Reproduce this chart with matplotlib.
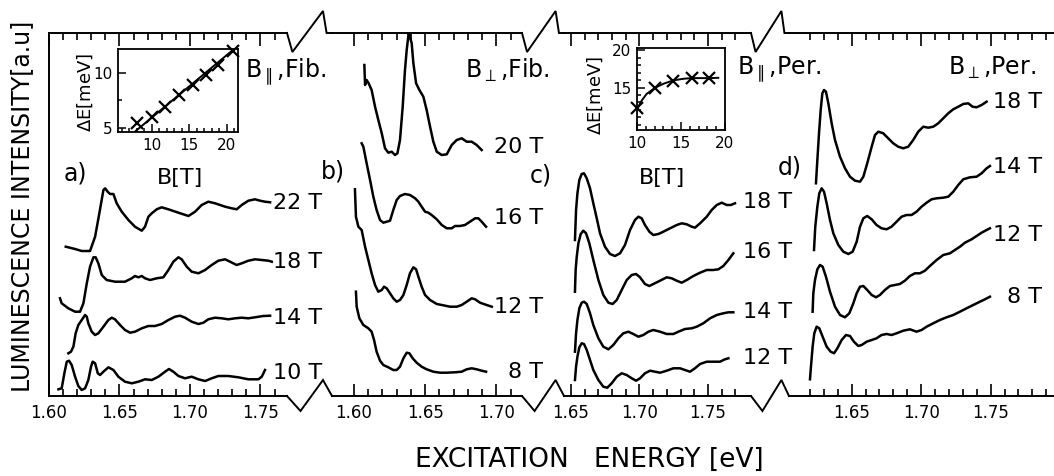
import numpy as np
import matplotlib
matplotlib.use('Agg')
import matplotlib.pyplot as plt
from matplotlib.ticker import FixedLocator, FormatStrFormatter

# ---------------- data (energy in eV, intensity in a.u., curves already offset) ----------------
# a) B parallel, fibre
fp22_E = [1.6119, 1.6185, 1.6232, 1.6291, 1.6327, 1.6357, 1.6386, 1.6398, 1.6416, 1.6433, 1.6457, 1.6480,
          1.6516, 1.6563, 1.6610, 1.6658, 1.6681, 1.6705, 1.6729, 1.6764, 1.6799, 1.6847, 1.6918, 1.6989,
          1.7036, 1.7083, 1.7130, 1.7178, 1.7249, 1.7296, 1.7331, 1.7367, 1.7414, 1.7461, 1.7497, 1.7532, 1.7568]
fp22_I = [14.93, 14.70, 14.50, 14.50, 15.93, 18.27, 20.60, 20.77, 20.43, 20.20, 20.20, 19.27,
          18.43, 17.60, 16.93, 16.53, 16.93, 17.93, 18.27, 18.67, 18.87, 18.67, 18.33, 18.00,
          18.43, 19.10, 19.43, 19.27, 18.93, 18.77, 18.67, 19.10, 19.53, 19.67, 19.53, 19.43, 19.37]
fp18_E = [1.6078, 1.6090, 1.6137, 1.6185, 1.6220, 1.6244, 1.6268, 1.6291, 1.6315, 1.6331, 1.6350, 1.6374,
          1.6409, 1.6468, 1.6539, 1.6587, 1.6610, 1.6634, 1.6658, 1.6681, 1.6717, 1.6764, 1.6811, 1.6847,
          1.6882, 1.6918, 1.6941, 1.6977, 1.7012, 1.7060, 1.7107, 1.7154, 1.7201, 1.7249, 1.7284, 1.7331,
          1.7367, 1.7414, 1.7461, 1.7509, 1.7556, 1.7580]
fp18_I = [9.77, 9.27, 8.77, 8.43, 8.43, 9.27, 11.27, 12.93, 13.87, 13.87, 13.27, 12.10,
          11.60, 11.43, 11.43, 11.77, 12.00, 11.87, 12.00, 11.77, 11.60, 11.77, 11.87, 12.60,
          13.43, 13.87, 13.67, 12.93, 12.43, 12.27, 12.60, 13.10, 13.53, 13.67, 13.43, 13.10,
          13.27, 13.53, 13.67, 13.60, 13.53, 13.43]
fp14_E = [1.6137, 1.6156, 1.6173, 1.6189, 1.6208, 1.6232, 1.6256, 1.6268, 1.6279, 1.6303, 1.6327, 1.6350,
          1.6386, 1.6421, 1.6445, 1.6468, 1.6504, 1.6539, 1.6575, 1.6610, 1.6658, 1.6705, 1.6752, 1.6799,
          1.6847, 1.6894, 1.6929, 1.6965, 1.7012, 1.7060, 1.7095, 1.7130, 1.7178, 1.7225, 1.7272, 1.7320,
          1.7367, 1.7414, 1.7461, 1.7520, 1.7568]
fp14_I = [4.27, 4.43, 4.93, 6.27, 7.10, 7.60, 8.10, 7.93, 7.27, 6.43, 6.10, 6.27,
          6.93, 7.60, 7.83, 7.67, 7.10, 6.60, 6.33, 6.43, 6.77, 7.00, 7.00, 7.20,
          7.60, 7.93, 8.03, 7.83, 7.43, 7.20, 7.33, 7.67, 7.83, 7.77, 7.67, 7.77,
          7.83, 7.77, 7.87, 8.00, 8.03]
fp10_E = [1.6067, 1.6090, 1.6109, 1.6126, 1.6142, 1.6161, 1.6185, 1.6208, 1.6232, 1.6256, 1.6279, 1.6298,
          1.6310, 1.6327, 1.6346, 1.6362, 1.6386, 1.6421, 1.6457, 1.6492, 1.6539, 1.6587, 1.6634, 1.6681,
          1.6729, 1.6776, 1.6823, 1.6851, 1.6882, 1.6918, 1.6965, 1.7012, 1.7060, 1.7107, 1.7154, 1.7201,
          1.7272, 1.7343, 1.7414, 1.7485, 1.7509, 1.7532]
fp10_I = [0.67, 0.77, 2.27, 3.43, 3.53, 3.10, 1.93, 1.00, 0.60, 0.77, 1.60, 2.93,
          3.43, 3.27, 2.27, 2.10, 2.43, 2.87, 2.60, 1.93, 1.43, 1.27, 1.43, 1.67,
          1.60, 1.93, 2.43, 2.70, 2.43, 2.00, 1.77, 1.93, 1.67, 1.50, 1.77, 2.00,
          2.00, 1.87, 1.67, 1.67, 1.93, 2.60]

# b) B perpendicular, fibre
fo20_E = [1.6073, 1.6078, 1.6089, 1.6103, 1.6124, 1.6148, 1.6171, 1.6195, 1.6218, 1.6241, 1.6265, 1.6288,
          1.6305, 1.6323, 1.6342, 1.6358, 1.6370, 1.6384, 1.6393, 1.6405, 1.6417, 1.6436, 1.6459, 1.6487,
          1.6510, 1.6534, 1.6557, 1.6581, 1.6616, 1.6651, 1.6686, 1.6721, 1.6756, 1.6791, 1.6826, 1.6861, 1.6896]
fo20_I = [33.10, 31.10, 31.60, 31.27, 30.60, 28.93, 27.60, 26.27, 24.77, 24.33, 24.43, 24.10,
          24.27, 25.60, 28.93, 32.60, 34.60, 36.27, 35.93, 35.27, 33.27, 31.27, 30.60, 29.93,
          28.60, 26.93, 25.43, 24.43, 24.10, 24.17, 25.10, 25.60, 25.77, 25.43, 25.43, 25.10, 24.60]
fo16_E = [1.6054, 1.6066, 1.6089, 1.6113, 1.6136, 1.6159, 1.6183, 1.6206, 1.6230, 1.6253, 1.6276, 1.6300,
          1.6323, 1.6358, 1.6393, 1.6429, 1.6452, 1.6475, 1.6499, 1.6522, 1.6545, 1.6581, 1.6616, 1.6651,
          1.6686, 1.6709, 1.6744, 1.6779, 1.6814, 1.6850, 1.6873, 1.6896, 1.6927]
fo16_I = [25.27, 24.93, 23.27, 21.60, 19.93, 18.60, 17.60, 17.33, 17.43, 17.53, 18.60, 19.60,
          20.00, 20.20, 20.10, 19.77, 19.43, 18.93, 18.43, 18.33, 18.10, 17.67, 17.10, 16.77,
          16.77, 17.00, 17.00, 17.10, 17.43, 17.77, 17.77, 17.43, 16.93]
fo12_E = [1.6007, 1.6014, 1.6031, 1.6054, 1.6078, 1.6101, 1.6124, 1.6148, 1.6171, 1.6195, 1.6211, 1.6230,
          1.6253, 1.6276, 1.6300, 1.6323, 1.6347, 1.6370, 1.6393, 1.6417, 1.6436, 1.6452, 1.6475, 1.6499,
          1.6534, 1.6581, 1.6627, 1.6674, 1.6721, 1.6756, 1.6791, 1.6826, 1.6850, 1.6885, 1.6931, 1.6967]
fo12_I = [20.67, 17.93, 16.93, 16.60, 14.93, 13.60, 12.27, 11.10, 10.43, 10.60, 10.93, 10.77,
          10.27, 9.77, 9.43, 9.60, 10.10, 11.10, 12.27, 12.87, 12.67, 11.93, 10.93, 10.10,
          9.60, 9.20, 9.07, 8.93, 8.93, 9.10, 9.43, 9.77, 9.67, 9.33, 9.10, 8.93]
fo8_E = [1.6014, 1.6019, 1.6038, 1.6066, 1.6101, 1.6124, 1.6141, 1.6159, 1.6183, 1.6206, 1.6241, 1.6276,
         1.6300, 1.6323, 1.6347, 1.6370, 1.6389, 1.6412, 1.6440, 1.6475, 1.6510, 1.6557, 1.6604, 1.6651,
         1.6709, 1.6756, 1.6791, 1.6826, 1.6861, 1.6896, 1.6927]
fo8_I = [10.43, 8.93, 7.77, 7.10, 6.77, 6.43, 5.60, 4.43, 3.53, 3.10, 2.87, 2.60,
         2.60, 2.93, 3.77, 4.33, 4.27, 3.77, 3.33, 2.93, 2.67, 2.43, 2.33, 2.33,
         2.37, 2.43, 2.67, 2.77, 2.67, 2.53, 2.43]

# c) B parallel, perpendicular sample
pp18_E = [1.6529, 1.6537, 1.6547, 1.6561, 1.6578, 1.6595, 1.6615, 1.6639, 1.6663, 1.6688, 1.6712, 1.6748,
          1.6785, 1.6821, 1.6858, 1.6894, 1.6931, 1.6967, 1.6992, 1.7016, 1.7040, 1.7072, 1.7101, 1.7138,
          1.7174, 1.7223, 1.7272, 1.7308, 1.7345, 1.7381, 1.7405, 1.7442, 1.7491, 1.7527, 1.7564, 1.7600,
          1.7637, 1.7666, 1.7697]
pp18_I = [15.60, 18.60, 20.27, 21.60, 22.20, 22.27, 21.77, 20.77, 19.27, 17.77, 16.27, 14.93,
          14.20, 14.00, 14.27, 15.10, 16.60, 17.60, 17.93, 17.77, 17.10, 16.43, 16.10, 16.20,
          16.43, 16.77, 17.10, 17.27, 17.17, 16.93, 16.83, 17.27, 17.93, 18.60, 19.10, 19.33,
          19.10, 19.10, 19.27]
pp16_E = [1.6529, 1.6534, 1.6542, 1.6554, 1.6571, 1.6590, 1.6610, 1.6634, 1.6663, 1.6700, 1.6736, 1.6773,
          1.6804, 1.6834, 1.6870, 1.6907, 1.6943, 1.6975, 1.7004, 1.7040, 1.7072, 1.7101, 1.7150, 1.7199,
          1.7235, 1.7272, 1.7308, 1.7345, 1.7393, 1.7442, 1.7491, 1.7539, 1.7576, 1.7612, 1.7649, 1.7685]
pp16_I = [10.43, 12.60, 13.93, 15.27, 16.20, 16.53, 16.27, 15.27, 13.60, 11.60, 10.10, 9.33,
          9.20, 9.60, 10.60, 11.60, 12.10, 12.20, 11.87, 11.20, 11.00, 11.20, 11.53, 11.87,
          11.77, 11.53, 11.33, 11.60, 12.00, 12.33, 12.60, 12.60, 12.67, 13.00, 13.60, 14.27]
pp14_E = [1.6529, 1.6537, 1.6547, 1.6561, 1.6578, 1.6595, 1.6615, 1.6639, 1.6663, 1.6700, 1.6736, 1.6773,
          1.6809, 1.6846, 1.6882, 1.6919, 1.6955, 1.6992, 1.7028, 1.7065, 1.7101, 1.7150, 1.7199, 1.7247,
          1.7284, 1.7332, 1.7381, 1.7418, 1.7466, 1.7515, 1.7564, 1.7612, 1.7649, 1.7685]
pp14_I = [4.43, 6.27, 7.60, 8.77, 9.33, 9.43, 9.20, 8.27, 7.10, 5.77, 4.93, 4.67,
          5.10, 5.77, 6.27, 6.43, 6.20, 5.93, 6.10, 6.43, 6.60, 6.43, 6.20, 6.20,
          6.43, 6.70, 6.77, 6.93, 7.27, 7.77, 8.10, 8.27, 8.37, 8.37]
pp12_E = [1.6529, 1.6537, 1.6547, 1.6561, 1.6578, 1.6595, 1.6615, 1.6639, 1.6663, 1.6700, 1.6736, 1.6765,
          1.6797, 1.6834, 1.6870, 1.6907, 1.6943, 1.6975, 1.7004, 1.7040, 1.7077, 1.7113, 1.7150, 1.7199,
          1.7247, 1.7296, 1.7332, 1.7369, 1.7405, 1.7442, 1.7491, 1.7539, 1.7588, 1.7624, 1.7649]
pp12_I = [1.60, 2.93, 3.93, 4.87, 5.27, 5.20, 4.60, 3.60, 2.60, 1.60, 0.93, 0.83,
          1.27, 1.93, 2.27, 2.10, 1.77, 1.53, 1.77, 2.27, 2.53, 2.43, 2.33, 2.53,
          2.77, 2.77, 2.60, 2.43, 2.77, 3.20, 3.43, 3.43, 3.43, 3.67, 3.77]

# d) B perpendicular, perpendicular sample
po18_E = [1.6243, 1.6253, 1.6265, 1.6277, 1.6289, 1.6301, 1.6315, 1.6332, 1.6356, 1.6380, 1.6416, 1.6452,
          1.6488, 1.6524, 1.6560, 1.6584, 1.6612, 1.6644, 1.6668, 1.6692, 1.6727, 1.6763, 1.6799, 1.6835,
          1.6871, 1.6907, 1.6943, 1.6979, 1.7015, 1.7051, 1.7087, 1.7123, 1.7159, 1.7195, 1.7231, 1.7267,
          1.7303, 1.7339, 1.7370, 1.7399, 1.7435, 1.7471]
po18_I = [21.27, 23.60, 26.27, 28.60, 30.27, 30.60, 30.43, 29.27, 27.27, 25.60, 23.93, 22.77,
          21.93, 21.53, 21.43, 21.93, 23.27, 24.93, 26.10, 26.43, 26.27, 25.77, 25.27, 24.93,
          24.77, 24.93, 25.60, 26.43, 26.93, 26.83, 26.93, 27.27, 27.77, 28.27, 28.67, 28.93,
          29.20, 29.27, 28.93, 28.87, 29.10, 29.43]
po14_E = [1.6229, 1.6238, 1.6253, 1.6267, 1.6284, 1.6301, 1.6320, 1.6344, 1.6368, 1.6404, 1.6440, 1.6476,
          1.6507, 1.6536, 1.6560, 1.6584, 1.6612, 1.6644, 1.6679, 1.6715, 1.6751, 1.6787, 1.6823, 1.6859,
          1.6895, 1.6931, 1.6967, 1.7003, 1.7039, 1.7075, 1.7111, 1.7159, 1.7195, 1.7231, 1.7267, 1.7303,
          1.7351, 1.7399, 1.7435, 1.7471, 1.7495]
po14_I = [14.60, 16.93, 18.93, 20.27, 20.77, 20.43, 19.27, 17.60, 16.27, 15.10, 14.43, 14.20,
          14.43, 15.43, 16.93, 17.77, 18.00, 17.67, 17.10, 16.77, 16.67, 16.93, 17.43, 17.93,
          18.10, 18.10, 18.43, 18.93, 19.33, 19.67, 19.77, 19.83, 19.93, 20.43, 21.10, 21.67,
          21.87, 21.93, 22.27, 22.77, 23.00]
po12_E = [1.6219, 1.6224, 1.6236, 1.6253, 1.6272, 1.6291, 1.6315, 1.6344, 1.6380, 1.6416, 1.6452, 1.6483,
          1.6512, 1.6536, 1.6560, 1.6584, 1.6612, 1.6644, 1.6675, 1.6703, 1.6739, 1.6775, 1.6811, 1.6847,
          1.6883, 1.6919, 1.6955, 1.6991, 1.7027, 1.7063, 1.7111, 1.7159, 1.7207, 1.7243, 1.7279, 1.7315,
          1.7363, 1.7399, 1.7435, 1.7471, 1.7495]
po12_I = [8.43, 10.27, 11.60, 12.67, 13.10, 12.93, 11.93, 10.43, 8.93, 8.10, 7.87, 8.27,
          9.27, 10.27, 10.93, 11.00, 10.60, 10.10, 9.87, 10.10, 10.60, 11.00, 11.10, 11.20,
          11.53, 12.00, 12.27, 12.27, 12.53, 13.00, 13.60, 14.10, 14.27, 14.60, 14.93, 15.33,
          15.67, 16.00, 16.33, 16.60, 16.77]
po8_E = [1.6200, 1.6207, 1.6219, 1.6231, 1.6248, 1.6267, 1.6291, 1.6320, 1.6349, 1.6373, 1.6397, 1.6428,
         1.6459, 1.6488, 1.6516, 1.6548, 1.6572, 1.6608, 1.6644, 1.6679, 1.6715, 1.6751, 1.6787, 1.6823,
         1.6871, 1.6919, 1.6967, 1.7003, 1.7039, 1.7087, 1.7135, 1.7183, 1.7231, 1.7279, 1.7327, 1.7375,
         1.7423, 1.7459, 1.7495]
po8_I = [1.67, 2.93, 4.93, 6.27, 6.93, 6.77, 5.93, 4.93, 4.43, 4.27, 4.77, 5.60,
         6.10, 6.00, 5.43, 5.00, 5.10, 5.43, 5.60, 5.77, 6.10, 6.20, 6.10, 6.27,
         6.53, 6.67, 6.43, 6.60, 6.93, 7.27, 7.60, 7.87, 8.10, 8.43, 8.77, 9.10,
         9.43, 9.67, 9.93]

# insets: splitting Delta E vs B
fib_B = [8.0, 10.0, 11.7, 13.6, 15.5, 17.2, 18.8, 20.8]
fib_dE = [5.4, 6.0, 6.9, 8.0, 8.9, 9.8, 10.7, 12.0]
fib_fit_B = [7.7, 20.8]
fib_fit_dE = [4.6, 12.1]
per_B = [10.0, 12.0, 14.1, 16.2, 18.2]
per_dE = [12.3, 15.0, 15.9, 16.3, 16.3]
per_fit_B = [10.0, 10.53, 11.1, 12.05, 13.0, 14.1, 15.26, 16.2, 17.16, 18.2, 19.24]
per_fit_dE = [12.1, 13.24, 14.15, 14.96, 15.5, 15.95, 16.17, 16.26, 16.26, 16.26, 16.3]

field_a = ['22 T', '18 T', '14 T', '10 T']
field_b = ['20 T', '16 T', '12 T', '8 T']
field_c = ['18 T', '16 T', '14 T', '12 T']
field_d = ['18 T', '14 T', '12 T', '8 T']

# ---------------- figure ----------------
W, H = 1054, 476
Y_BOT, Y_TOP = 396, 33   # frame rows (px)
LW = 1.8

plt.rcParams['font.family'] = ['DejaVu Sans']
plt.rcParams['mathtext.fontset'] = 'dejavusans'

fig = plt.figure(figsize=(W / 100, H / 100), dpi=100)


def panel(x0, x1, xlim, majors, minors, left=False):
    ax = fig.add_axes([x0 / W, (H - Y_BOT) / H, (x1 - x0) / W, (Y_BOT - Y_TOP) / H])
    ax.set_xlim(xlim)
    ax.set_ylim(0, (Y_BOT - Y_TOP) / 10)
    ax.patch.set_visible(False)
    ax.spines['right'].set_visible(False)
    ax.spines['left'].set_visible(left)
    for s in ax.spines.values():
        s.set_linewidth(1.4)
    ax.xaxis.set_major_locator(FixedLocator(majors))
    ax.xaxis.set_minor_locator(FixedLocator(minors))
    ax.xaxis.set_major_formatter(FormatStrFormatter('%.2f'))
    ax.tick_params(axis='x', which='both', direction='in', top=True, bottom=True,
                   width=1.2, labelsize=12, pad=6)
    ax.tick_params(axis='x', which='major', length=9)
    ax.tick_params(axis='x', which='minor', length=5)
    ax.tick_params(axis='y', left=False, labelleft=False)
    return ax


ax_a = panel(49, 287, (1.600, 1.7688), [1.60, 1.65, 1.70, 1.75],
             np.arange(1.60, 1.765, 0.01), left=True)
ax_b = panel(332, 522, (1.5846, 1.7179), [1.60, 1.65, 1.70], np.arange(1.60, 1.715, 0.01))
ax_c = panel(564, 751, (1.6449, 1.7814), [1.65, 1.70, 1.75], np.arange(1.65, 1.775, 0.01))
ax_d = panel(789, 1054, (1.6049, 1.7956), [1.65, 1.70, 1.75], np.arange(1.62, 1.795, 0.01))

for ax, curves in [(ax_a, [(fp22_E, fp22_I), (fp18_E, fp18_I), (fp14_E, fp14_I), (fp10_E, fp10_I)]),
                   (ax_b, [(fo20_E, fo20_I), (fo16_E, fo16_I), (fo12_E, fo12_I), (fo8_E, fo8_I)]),
                   (ax_c, [(pp18_E, pp18_I), (pp16_E, pp16_I), (pp14_E, pp14_I), (pp12_E, pp12_I)]),
                   (ax_d, [(po18_E, po18_I), (po14_E, po14_I), (po12_E, po12_I), (po8_E, po8_I)])]:
    for e, i in curves:
        ax.plot(e, i, color='k', lw=LW, clip_on=False, solid_joinstyle='round')


def inset(x0, x1, y0, y1, xlim, ylim, ymaj, ymin):
    ax = fig.add_axes([x0 / W, (H - y1) / H, (x1 - x0) / W, (y1 - y0) / H])
    ax.set_xlim(xlim)
    ax.set_ylim(ylim)
    for s in ax.spines.values():
        s.set_linewidth(1.3)
    ax.xaxis.set_major_locator(FixedLocator([10, 15, 20]))
    ax.xaxis.set_minor_locator(FixedLocator(range(6, 22)))
    ax.yaxis.set_major_locator(FixedLocator(ymaj))
    ax.yaxis.set_minor_locator(FixedLocator(ymin))
    ax.tick_params(which='both', direction='in', width=1.1, labelsize=11, pad=4)
    ax.tick_params(which='major', length=6)
    ax.tick_params(which='minor', length=3)
    return ax


ins_a = inset(118, 238, 49, 132, (5.5, 21.5), (4.6, 12.2), [5, 10], [7.5])
ins_a.plot(fib_fit_B, fib_fit_dE, color='k', lw=1.4)
ins_a.plot(fib_B, fib_dE, ls='none', marker='x', ms=8, mew=1.6, color='k', clip_on=False)

ins_c = inset(637, 725, 48, 130, (10, 20), (9.3, 20.3), [15, 20], range(10, 21))
ins_c.plot(per_fit_B, per_fit_dE, color='k', lw=1.4)
ins_c.plot(per_B, per_dE, ls='none', marker='x', ms=8, mew=1.6, color='k', clip_on=False)

# overlay in pixel coordinates for axis breaks and lettering
ov = fig.add_axes([0, 0, 1, 1])
ov.set_xlim(0, W)
ov.set_ylim(H, 0)
ov.axis('off')


def axis_break(x0, x1):
    w = x1 - x0
    ov.plot([x0, x0 + 0.3 * w, x0 + 0.8 * w, x1], [Y_BOT, Y_BOT + 15, Y_BOT - 16, Y_BOT],
            color='k', lw=1.4, solid_joinstyle='miter')
    ov.plot([x0, x0 + 0.12 * w, x0 + 0.8 * w, x0 + 0.88 * w, x1], [Y_TOP, Y_TOP + 19, Y_TOP - 22, Y_TOP, Y_TOP],
            color='k', lw=1.4, solid_joinstyle='miter')


axis_break(287, 332)
axis_break(522, 564)
axis_break(751, 789)

ov.text(22, 206, 'LUMINESCENCE INTENSITY[a.u]', rotation=90, ha='center', va='center', fontsize=17)
ov.text(589, 460, 'EXCITATION   ENERGY [eV]', ha='center', va='center', fontsize=19)

for x, y, s in [(75, 173, 'a)'), (333, 172, 'b)'), (541, 175, 'c)'), (790, 168, 'd)')]:
    ov.text(x, y, s, ha='center', va='center', fontsize=17)

ov.text(245, 78, r'B$_{\parallel}$,Fib.', ha='left', va='baseline', fontsize=17)
ov.text(465, 78, r'B$_{\perp}$,Fib.', ha='left', va='baseline', fontsize=17)
ov.text(737, 75, r'B$_{\parallel}$,Per.', ha='left', va='baseline', fontsize=17)
ov.text(948, 75, r'B$_{\perp}$,Per.', ha='left', va='baseline', fontsize=17)

ov.text(85, 92, r'$\Delta$E[meV]', rotation=90, ha='center', va='center', fontsize=13)
ov.text(595, 95, r'$\Delta$E[meV]', rotation=90, ha='center', va='center', fontsize=13)
ov.text(180, 178, 'B[T]', ha='center', va='center', fontsize=16)
ov.text(662, 178, 'B[T]', ha='center', va='center', fontsize=16)

for s, y in zip(field_a, [203, 262, 318, 373]):
    ov.text(273, y, s, ha='left', va='center', fontsize=16)
for s, y in zip(field_b, [147, 218, 307, 372]):
    ov.text(543, y, s, ha='right', va='center', fontsize=16)
for s, y in zip(field_c, [202, 252, 312, 358]):
    ov.text(743, y, s, ha='left', va='center', fontsize=16)
for s, y in zip(field_d, [102, 167, 235, 297]):
    ov.text(1042, y, s, ha='right', va='center', fontsize=16)

fig.savefig('out.png', dpi=100)
